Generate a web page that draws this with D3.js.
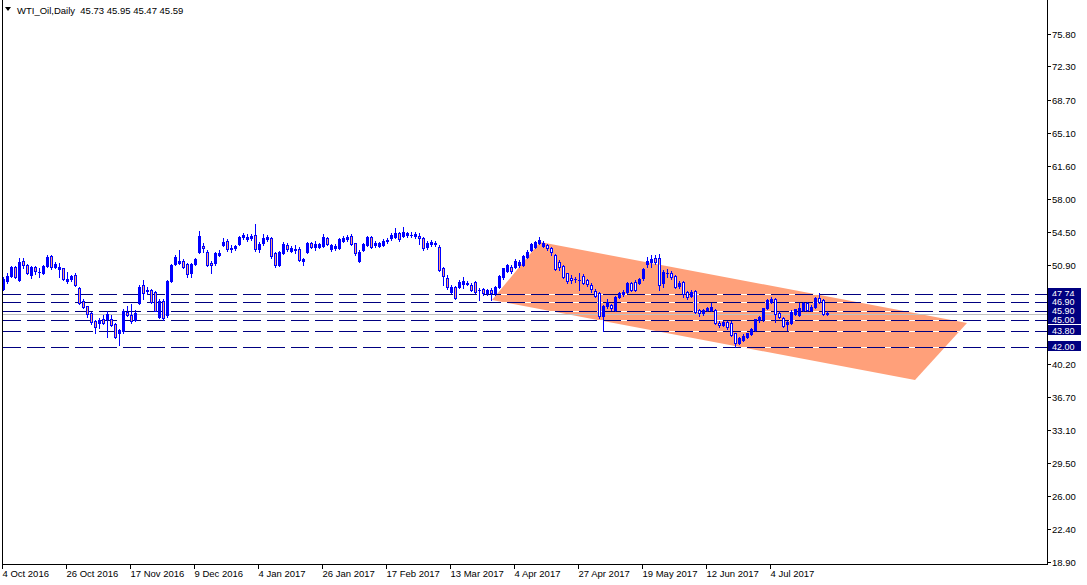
<!DOCTYPE html>
<html><head><meta charset="utf-8">
<script src="https://cdn.jsdelivr.net/npm/d3@7"></script>
<style>
html,body{margin:0;padding:0;background:#fff;}
svg{display:block;}
text{font-family:"Liberation Sans",Arial,sans-serif;}
</style></head><body>
<svg id="c" width="1087" height="585"></svg>
<script>
// ---------------- data ----------------
const symbolTitle = "WTI_Oil,Daily";
const lastOHLC = [45.73, 45.95, 45.47, 45.59];
const xTickLabels = ["4 Oct 2016","26 Oct 2016","17 Nov 2016","9 Dec 2016","4 Jan 2017","26 Jan 2017","17 Feb 2017","13 Mar 2017","4 Apr 2017","27 Apr 2017","19 May 2017","12 Jun 2017","4 Jul 2017"];
const xTickBars = [0,16,32,48,64,80,96,112,128,144,160,176,192];
const yTickLabels = ["75.80","72.30","68.70","65.10","61.60","58.00","54.50","50.90","40.20","36.70","33.10","29.50","26.00","22.40","18.90"];
const levelPrices = [47.74, 46.90, 45.90, 45.00, 43.80, 42.00];
const bidPrice = 45.59;
const channelBars = [122.25, 134.25, 241, 228];
const channelPrices = [47.12, 53.37, 44.64, 38.49];

const open = [48.27,49.20,49.70,50.64,49.28,51.36,50.89,49.85,50.64,50.10,50.06,50.78,51.86,50.71,50.50,50.53,49.20,49.35,49.85,48.38,
47.05,46.47,45.68,44.89,44.60,45.10,45.03,45.10,44.53,43.53,43.74,45.82,45.46,44.93,46.83,48.70,48.20,48.20,47.98,45.32,
47.05,45.46,49.20,51.00,51.07,51.36,51.00,50.06,51.00,52.33,52.94,52.33,51.14,51.07,52.01,53.05,53.52,52.58,52.69,53.12,
53.87,53.66,53.77,54.13,52.58,53.23,53.66,53.77,52.15,50.89,52.22,53.05,52.44,52.60,52.58,51.36,52.33,53.30,52.80,52.87,
52.94,53.77,52.58,52.69,52.69,53.52,53.66,54.02,53.23,51.36,52.51,53.05,53.95,53.05,52.94,53.05,53.52,53.77,53.95,54.38,
54.02,54.09,54.13,54.02,54.02,53.77,52.80,53.16,53.16,52.80,50.53,49.50,47.98,48.48,48.56,48.84,48.84,48.74,49.09,48.20,
48.27,47.84,48.20,47.84,48.48,49.56,50.28,50.71,50.71,50.89,50.89,51.79,52.51,52.80,53.30,52.94,53.05,52.69,51.97,51.25,
50.78,49.99,49.45,49.35,49.27,49.71,49.27,48.74,48.12,47.84,45.39,46.47,46.58,46.04,47.40,47.76,48.02,48.99,49.09,48.99,
49.45,51.00,51.25,51.61,51.61,48.91,49.99,49.99,49.71,48.63,49.09,48.02,47.55,48.13,46.04,45.68,46.04,46.04,46.04,44.67,
44.42,44.78,44.67,43.52,42.52,42.81,43.16,43.45,43.88,44.96,45.03,46.22,46.94,47.19,45.75,45.14,44.53,44.60,45.61,45.50,
46.04,46.76,46.04,46.40,47.30,47.12,45.73];
const high = [49.60,49.99,50.75,50.75,51.61,51.61,51.00,50.80,50.80,50.53,50.90,51.97,51.97,51.20,51.07,50.60,50.14,49.85,50.00,48.50,
47.20,46.50,45.80,45.00,45.20,45.50,45.90,45.50,44.60,44.00,46.10,46.47,46.69,46.00,48.70,49.28,48.50,48.30,48.10,47.20,
47.20,49.30,51.00,51.93,52.50,51.50,51.10,51.10,51.60,54.59,53.23,52.50,51.30,52.30,52.50,53.77,53.70,53.00,53.10,54.05,
54.30,54.23,54.20,55.31,53.40,54.23,54.10,53.90,52.30,52.40,53.40,53.30,52.90,53.00,52.80,51.70,53.40,53.40,53.50,53.30,
54.20,53.90,53.20,53.20,53.80,54.00,54.10,54.20,53.30,52.50,53.30,54.00,54.00,53.50,53.40,53.70,53.80,54.30,54.90,54.50,
54.94,54.50,54.40,54.50,54.30,53.90,53.50,53.60,53.50,53.00,50.70,49.80,48.70,48.63,49.30,49.63,49.20,48.90,49.20,48.38,
48.40,48.30,48.38,48.60,49.80,50.60,51.00,50.90,51.50,51.40,52.00,52.50,53.30,53.50,53.88,53.50,53.20,52.80,52.10,51.40,
50.90,50.00,49.80,49.60,49.99,49.90,49.40,48.90,48.30,48.00,46.60,47.20,46.70,47.60,48.00,48.20,49.10,49.10,49.30,49.50,
50.60,51.79,51.97,51.97,52.08,50.30,50.42,50.20,49.80,49.20,49.20,48.10,48.20,48.20,46.20,46.20,46.40,46.76,46.20,44.80,
44.90,44.90,44.80,43.60,43.10,43.40,43.60,44.10,45.10,45.40,46.30,47.20,47.40,47.30,45.90,45.30,44.90,46.00,46.20,46.76,
46.90,46.90,46.60,47.40,47.84,47.20,45.95];
const low = [48.20,48.99,49.60,49.50,49.20,50.53,49.90,49.45,49.90,49.64,49.90,50.70,50.50,50.60,49.64,49.30,48.92,49.20,48.60,46.70,
46.30,45.30,44.50,43.60,44.10,44.50,43.10,44.30,43.00,42.23,43.60,45.40,44.60,44.80,46.70,47.19,47.80,46.80,45.90,45.20,
44.96,45.30,49.10,50.90,51.00,50.60,49.60,49.63,50.90,52.20,52.33,50.80,49.99,50.90,51.90,52.90,52.40,52.30,52.50,53.00,
53.70,53.50,53.60,52.45,52.30,53.10,53.50,51.70,50.70,50.80,52.10,52.40,52.30,52.20,51.30,50.90,52.20,52.70,52.50,52.70,
52.80,53.00,52.40,52.50,52.60,53.40,53.50,53.00,52.00,51.20,52.40,52.90,52.70,52.80,52.80,52.90,53.30,53.60,53.80,53.50,
53.90,53.90,53.90,53.80,53.16,52.50,52.60,52.90,52.90,50.20,48.74,48.30,47.90,47.20,48.40,48.38,48.70,48.10,47.90,47.12,
47.70,47.70,47.12,47.70,48.40,49.40,50.10,50.00,50.60,50.70,50.80,51.70,52.40,52.70,53.20,52.80,52.50,52.00,50.30,50.30,
49.50,49.00,49.00,49.10,48.20,48.80,48.60,48.00,47.40,45.20,43.80,46.30,46.00,45.90,47.30,47.60,47.90,48.10,48.10,48.80,
49.30,50.71,50.71,51.00,48.20,48.48,49.56,49.40,48.40,48.40,47.48,47.20,47.40,45.70,45.39,45.50,45.90,45.90,44.50,44.20,
44.30,44.00,43.20,42.05,42.40,42.70,43.00,43.30,43.80,44.78,44.90,46.10,46.80,44.78,45.20,44.20,43.88,44.50,45.50,45.40,
45.90,45.90,45.90,46.30,46.80,45.50,45.47];
const close = [49.35,49.70,50.64,49.56,51.21,50.86,50.06,50.64,50.28,50.12,50.78,51.72,50.64,51.00,50.71,49.35,49.35,49.70,48.70,46.76,
46.40,45.61,44.75,44.17,45.00,44.67,45.61,44.46,43.17,43.89,45.97,45.53,44.89,45.75,48.56,47.84,48.05,46.90,45.97,47.05,
45.18,49.13,50.86,51.72,51.36,50.71,49.92,51.00,51.50,54.02,52.69,50.89,50.89,52.15,52.22,53.41,52.58,52.73,52.94,53.95,
54.09,53.87,54.06,52.58,53.16,53.77,53.87,51.86,50.86,52.29,53.16,52.58,52.69,52.48,51.43,51.50,53.23,52.87,53.16,53.16,
53.95,53.16,53.05,52.94,53.66,53.77,53.95,53.16,52.22,52.33,53.16,53.87,52.87,53.30,53.23,53.52,53.55,54.13,54.38,53.66,
54.45,54.31,54.15,54.23,53.77,52.69,53.30,53.41,53.30,50.35,49.75,48.50,48.48,47.35,49.09,49.20,48.99,48.20,48.02,48.22,
47.84,48.20,47.91,48.48,49.71,50.53,50.89,50.28,51.36,51.25,51.86,52.33,53.16,53.41,53.59,53.30,52.69,52.33,50.42,50.64,
49.63,49.20,49.27,49.38,49.30,48.99,48.84,48.27,47.55,45.39,46.47,46.94,46.22,47.48,47.84,48.02,48.99,48.20,48.20,49.35,
50.42,51.36,51.50,51.25,48.74,50.17,50.01,49.63,48.56,48.99,47.76,47.40,48.02,45.86,45.68,46.04,46.22,46.40,44.67,44.39,
44.78,44.17,43.34,42.52,42.99,43.24,43.52,43.95,45.03,45.32,46.22,47.12,47.20,45.61,45.32,44.31,44.78,45.86,46.11,46.22,
46.76,46.04,46.40,47.30,46.94,45.61,45.59];

// ---------------- chart ----------------
const BLUE = "#0000ff", NAVY = "#000080", SALMON = "#ffa07a";
const svg = d3.select("#c");
const x = d3.scaleLinear().domain([0, 261]).range([3, 1047]);
const y = d3.scaleLinear().domain([18.90, 75.80]).range([561.7, 34]);
const plotRight = 1047, plotBottom = 564;

// channel (drawn as background)
const chanPts = channelBars.map((b, k) => [x(b), y(channelPrices[k])]);
svg.append("defs").append("clipPath").attr("id", "chanClip")
  .append("polygon").attr("points", chanPts.map(p => p.join(",")).join(" "));
svg.append("polygon").attr("points", chanPts.map(p => p.join(",")).join(" "))
  .attr("fill", SALMON);

// level lines (dashed, white gaps)
const lv = svg.append("g");
levelPrices.forEach(v => {
  const yy = Math.round(y(v)) + 0.5;
  lv.append("line").attr("x1", 3).attr("x2", plotRight).attr("y1", yy).attr("y2", yy)
    .attr("stroke", "#fff").attr("stroke-width", 1);
  lv.append("line").attr("x1", 3).attr("x2", plotRight).attr("y1", yy).attr("y2", yy)
    .attr("stroke", NAVY).attr("stroke-width", 1).attr("stroke-dasharray", "18,6");
});
// bid line
{
  const yy = Math.round(y(bidPrice)) + 0.5;
  svg.append("line").attr("x1", 3).attr("x2", plotRight).attr("y1", yy).attr("y2", yy)
    .attr("stroke", "#c0c0c0").attr("stroke-width", 1);
}

// candles
const cg = svg.append("g");
const cgIn = svg.append("g").attr("clip-path", "url(#chanClip)");
open.forEach((o, i) => {
  const c = close[i], h = high[i], l = low[i];
  const cx = Math.round(x(i));
  const top = Math.round(y(Math.max(o, c)));
  const bot = Math.round(y(Math.min(o, c)));
  const yh = Math.round(y(h)), yl = Math.round(y(l));
  if (top > yh) cg.append("rect").attr("x", cx).attr("y", yh).attr("width", 1).attr("height", top - yh).attr("fill", BLUE);
  if (yl > bot) cg.append("rect").attr("x", cx).attr("y", bot + 1).attr("width", 1).attr("height", yl - bot).attr("fill", BLUE);
  const bh = Math.max(1, bot - top + 1);
  cg.append("rect").attr("x", cx - 1).attr("y", top).attr("width", 3).attr("height", bh).attr("fill", BLUE);
  if (c < o && bh > 2) {
    cg.append("rect").attr("x", cx).attr("y", top + 1).attr("width", 1).attr("height", bh - 2).attr("fill", SALMON);
    cgIn.append("rect").attr("x", cx).attr("y", top + 1).attr("width", 1).attr("height", bh - 2).attr("fill", "#fff");
  }
});

// frame
const fr = svg.append("g").attr("stroke", "#000").attr("stroke-width", 1);
fr.append("line").attr("x1", 2.5).attr("x2", 2.5).attr("y1", 0).attr("y2", plotBottom + 1);
fr.append("line").attr("x1", plotRight + 0.5).attr("x2", plotRight + 0.5).attr("y1", 0).attr("y2", plotBottom + 1);
fr.append("line").attr("x1", 2).attr("x2", plotRight + 1).attr("y1", plotBottom + 0.5).attr("y2", plotBottom + 0.5);

// price axis
const ya = svg.append("g");
yTickLabels.forEach(t => {
  const yy = Math.round(y(+t)) + 0.5;
  ya.append("line").attr("x1", plotRight + 1).attr("x2", plotRight + 4).attr("y1", yy).attr("y2", yy).attr("stroke", "#000");
  ya.append("text").attr("x", plotRight + 5).attr("y", yy + 3.5).attr("font-size", "9.5px").attr("fill", "#000").text(t);
});
// level labels (later boxes drawn over earlier ones, as in the terminal)
levelPrices.forEach(v => {
  const yy = Math.round(y(v));
  ya.append("rect").attr("x", plotRight + 1).attr("y", yy - 6).attr("width", 33).attr("height", 10).attr("fill", NAVY);
  ya.append("text").attr("x", plotRight + 5).attr("y", yy + 2.5).attr("font-size", "9px").attr("fill", "#fff").text(v.toFixed(2));
});

// time axis
const xa = svg.append("g");
xTickLabels.forEach((t, k) => {
  const cx = Math.round(x(xTickBars[k]));
  xa.append("line").attr("x1", cx - 0.5).attr("x2", cx - 0.5).attr("y1", plotBottom).attr("y2", plotBottom + 5).attr("stroke", "#000");
  xa.append("text").attr("x", cx - 0.5).attr("y", 577).attr("font-size", "9.5px").attr("fill", "#000").text(t);
});

// title
svg.append("path").attr("d", "M5,7 L11,7 L8,11 Z").attr("fill", "#000");
svg.append("text").attr("x", 17).attr("y", 14).attr("font-size", "9.5px").attr("fill", "#000")
  .attr("xml:space", "preserve").style("white-space", "pre")
  .text(symbolTitle + "  " + lastOHLC.map(d => d.toFixed(2)).join(" "));
</script>
</body></html>
